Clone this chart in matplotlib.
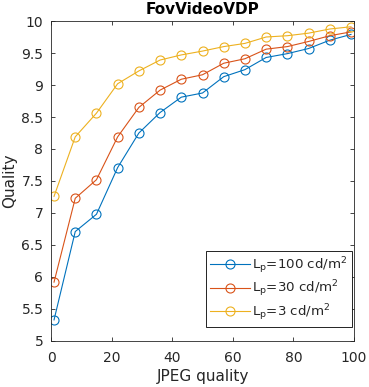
import matplotlib
matplotlib.use("Agg")
import matplotlib.pyplot as plt

jpeg_quality = [1, 8, 15, 22, 29, 36, 43, 50, 57, 64, 71, 78, 85, 92, 99]
q_100 = [5.33, 6.71, 6.98, 7.71, 8.25, 8.57, 8.81, 8.875, 9.13, 9.24, 9.43, 9.49, 9.57, 9.70, 9.79]
q_30 = [5.92, 7.23, 7.52, 8.19, 8.65, 8.92, 9.09, 9.16, 9.34, 9.41, 9.56, 9.60, 9.68, 9.77, 9.83]
q_3 = [7.26, 8.19, 8.56, 9.02, 9.22, 9.39, 9.47, 9.53, 9.60, 9.65, 9.75, 9.77, 9.81, 9.875, 9.91]
labels = [r'L$_\mathregular{p}$=100 cd/m$^\mathregular{2}$',
          r'L$_\mathregular{p}$=30 cd/m$^\mathregular{2}$',
          r'L$_\mathregular{p}$=3 cd/m$^\mathregular{2}$']
colors = ['#0072BD', '#D95319', '#EDB120']
xticks = [0, 20, 40, 60, 80, 100]
yticks = [5, 5.5, 6, 6.5, 7, 7.5, 8, 8.5, 9, 9.5, 10]
ytick_labels = ['5', '5.5', '6', '6.5', '7', '7.5', '8', '8.5', '9', '9.5', '10']

plt.rcParams['font.family'] = ['DejaVu Sans']
plt.rcParams['mathtext.fontset'] = 'dejavusans'
fig = plt.figure(figsize=(3.69, 3.87), dpi=100)
ax = fig.add_axes([51/369, 46/387, 303/369, 320/387])

for ys, lab, c in zip([q_100, q_30, q_3], labels, colors):
    ax.plot(jpeg_quality, ys, '-o', color=c, lw=0.8, markersize=6.5,
            markerfacecolor='none', markeredgewidth=0.8, label=lab)

ax.set_xlim(0, 100)
ax.set_ylim(5, 10)
ax.set_xticks(xticks)
ax.set_yticks(yticks)
ax.set_yticklabels(ytick_labels)
dark = '#262626'
ax.tick_params(direction='in', length=3, width=0.6, top=True, right=True,
               labelsize=10, colors=dark)
ax.tick_params(axis='x', pad=7)
ax.tick_params(axis='y', pad=5.5)
for s in ax.spines.values():
    s.set_color(dark)
    s.set_linewidth(0.6)
ax.set_title('FovVideoVDP', fontsize=11, fontweight='bold', color='black', pad=5)
ax.set_xlabel('JPEG quality', fontsize=11, color=dark, labelpad=3)
ax.set_ylabel('Quality', fontsize=11, color=dark, labelpad=3)

leg = ax.legend(loc='lower right', bbox_to_anchor=(301/303, 14/320),
                fontsize=9.6, frameon=True, fancybox=False,
                edgecolor='black', framealpha=1, handlelength=3.0,
                borderaxespad=0, labelspacing=0.22, handletextpad=0.15,
                borderpad=0.32)
leg.get_frame().set_linewidth(0.6)
for t in leg.get_texts():
    t.set_color(dark)

fig.savefig('out.png', dpi=100)
